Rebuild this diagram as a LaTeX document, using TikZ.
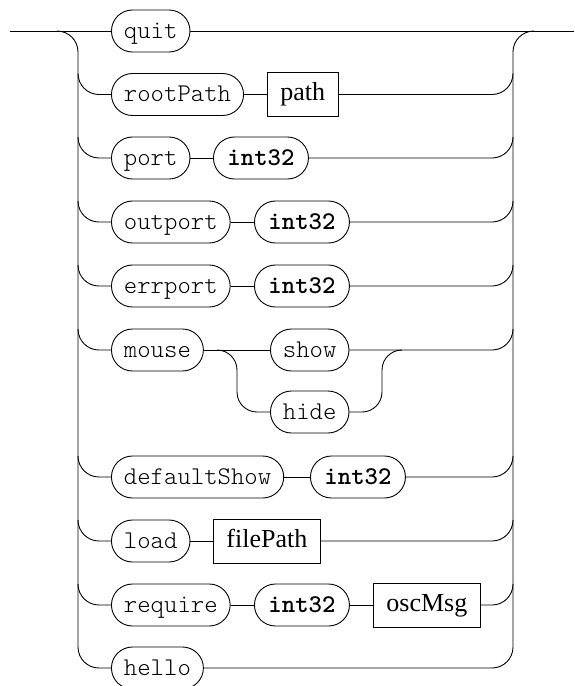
\documentclass[tikz,border=0pt]{standalone}
\usepackage{fontspec}
\newfontfamily\serifbox{Liberation Serif}
\newfontfamily\monoL{lmmonolt10-regular.otf}[BoldFont=lmmonolt10-bold.otf]
\begin{document}
\begin{tikzpicture}[x=1pt,y=-1pt,
  line width=0.9pt,
  term/.style={draw, rounded corners=21pt, minimum height=42pt, inner xsep=12.5pt, inner ysep=0pt,
    text height=16.5pt, text depth=2.5pt, font=\fontsize{25.5}{30}\selectfont\monoL, anchor=west},
  typ/.style={term, font=\fontsize{25.5}{30}\selectfont\monoL\bfseries, minimum width=95pt},
  nt/.style={draw, rectangle, minimum height=44pt, inner xsep=13pt, inner ysep=0pt,
    text height=17pt, text depth=5pt, font=\fontsize{26}{31}\selectfont\serifbox, anchor=west},
  rail/.style={rounded corners=21pt},
  inner/.style={rounded corners=20pt}]
\useasboundingbox (0,0) rectangle (574,686);

% nodes
\node[term] (quit) at (111,31) {quit};
\node[term] (rootPath) at (111,94.5) {rootPath};
\node[nt] (path) at (267,94.5) {path};
\node[term] (port) at (111,158) {port};
\node[typ] (portT) at (213,158) {int32};
\node[term] (outport) at (111,222) {outport};
\node[typ] (outportT) at (254,222) {int32};
\node[term] (errport) at (111,286) {errport};
\node[typ] (errportT) at (254,286) {int32};
\node[term] (mouse) at (111,350) {mouse};
\node[term] (show) at (270,350) {show};
\node[term] (hide) at (270,412) {hide};
\node[term] (defaultShow) at (111,477) {defaultShow};
\node[typ] (dsT) at (310,477) {int32};
\node[term] (load) at (111,541) {load};
\node[nt] (filePath) at (213,541) {filePath};
\node[term] (require) at (111,605) {require};
\node[typ] (reqT) at (254,605) {int32};
\node[nt] (oscMsg) at (373,605) {oscMsg};
\node[term] (hello) at (111,668) {hello};

% coordinates
\coordinate (in) at (10,31);
\coordinate (out) at (574,31);
\coordinate (LTa) at (57,31);
\coordinate (LT) at (78,31);
\coordinate (RT) at (513,31);
\coordinate (RTa) at (534,31);
\coordinate (LR) at (78,60);
\coordinate (RR) at (513,60);
\coordinate (mS0) at (217,350);
\coordinate (mSplit) at (237,350);
\coordinate (mJoin) at (382,350);
\coordinate (mJ1) at (402,350);

% main line and rails
\draw (in) -- (quit.west);
\draw (quit.east) -- (out);
\draw[rail] (LTa) -- (LT) |- (hello.west);
\draw[rail] (hello.east) -| (RT) -- (RTa);

% branches
\foreach \n in {rootPath, port, outport, errport, mouse, defaultShow, load, require} {
  \draw[rail] (\n.west -| LR) ++(0,-21) |- (\n.west);
}
\foreach \n in {path, portT, outportT, errportT, show, dsT, filePath, oscMsg} {
  \draw[rail] (\n.east) -- (\n.east -| RR) -- ++(0,-21);
}
\draw (rootPath.east) -- (path.west);
\draw (port.east) -- (portT.west);
\draw (outport.east) -- (outportT.west);
\draw (errport.east) -- (errportT.west);
\draw (mouse.east) -- (show.west);
\draw (defaultShow.east) -- (dsT.west);
\draw (load.east) -- (filePath.west);
\draw (require.east) -- (reqT.west);
\draw (reqT.east) -- (oscMsg.west);

% mouse show/hide
\draw[inner] (mS0) -- (mSplit) |- (hide.west);
\draw[inner] (hide.east) -| (mJoin) -- (mJ1);
\end{tikzpicture}
\end{document}
